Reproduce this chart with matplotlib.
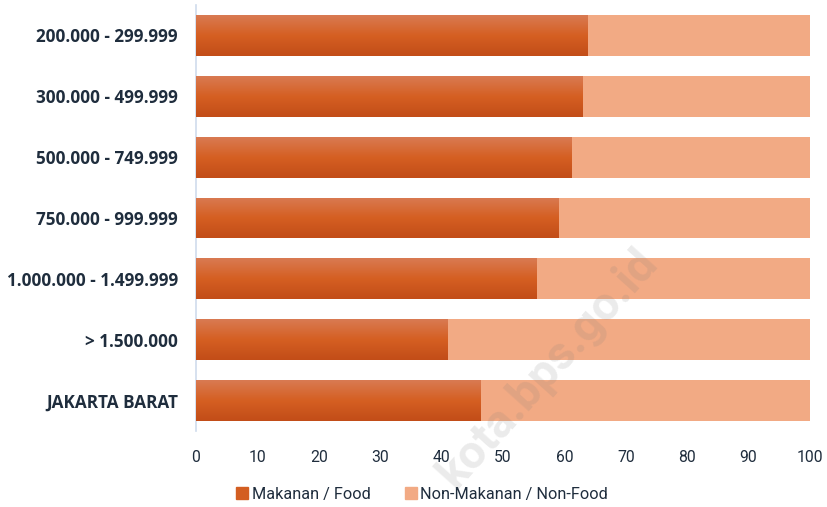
import numpy as np
import matplotlib
matplotlib.use("Agg")
import matplotlib.pyplot as plt
from matplotlib.colors import LinearSegmentedColormap
from matplotlib.patches import Patch

# data
categories = ["200.000 - 299.999", "300.000 - 499.999", "500.000 - 749.999",
              "750.000 - 999.999", "1.000.000 - 1.499.999", "> 1.500.000",
              "JAKARTA BARAT"]
food = [63.8, 63.0, 61.2, 59.0, 55.5, 41.0, 46.4]
nonfood = [100 - v for v in food]
xticks = list(range(0, 101, 10))

text_col = "#1f2d3d"
food_col = "#d35e22"
nonfood_col = "#f2aa84"

fig = plt.figure(figsize=(8.27, 5.07), dpi=100)
ax = fig.add_axes([196/827, 1-431/507, (810-196)/827, 426/507])

y = np.arange(len(categories))
h = 0.67
bars = ax.barh(y, food, height=h, color=food_col, zorder=2)
ax.barh(y, nonfood, left=food, height=h, color=nonfood_col, zorder=2)

# vertical gradient on the food bars
grad_cmap = LinearSegmentedColormap.from_list("g", ["#d97a52", "#d55f22", "#c24d18"])
grad = np.linspace(0, 1, 100).reshape(-1, 1)
for b in bars:
    x0, y0 = b.get_x(), b.get_y()
    im = ax.imshow(grad, cmap=grad_cmap, aspect="auto",
                   extent=[x0, x0 + b.get_width(), y0 + b.get_height(), y0],
                   zorder=3, interpolation="bilinear")
    im.set_clip_path(b)

ax.set_xlim(0, 100)
ax.set_ylim(len(categories) - 0.5, -0.5)
ax.set_xticks(xticks)
ax.set_yticks(y)
ax.set_yticklabels(categories, fontfamily="Open Sans", fontweight="bold",
                   fontsize=12.3, color=text_col)
for t in ax.get_xticklabels():
    t.set_fontfamily("Roboto")
    t.set_fontsize(11.3)
    t.set_color(text_col)
ax.tick_params(axis="both", length=0)
ax.tick_params(axis="x", pad=14)
ax.tick_params(axis="y", pad=13)
for s in ["top", "right", "bottom"]:
    ax.spines[s].set_visible(False)
ax.spines["left"].set_color("#cfdcec")
ax.spines["left"].set_linewidth(1.2)

# legend
handles = [Patch(color=food_col, label="Makanan / Food"),
           Patch(color=nonfood_col, label="Non-Makanan / Non-Food")]
fig.legend(handles=handles, loc="center", bbox_to_anchor=(422/827, 1-494/507),
           ncol=2, frameon=False, handlelength=0.75, handleheight=0.75,
           handletextpad=0.2, columnspacing=2.1,
           prop={"family": "Roboto", "size": 11.7}, labelcolor=text_col)

# faint watermark
fig.text(548/827, 1-368/507, "kota.bps.go.id", rotation=48,
         fontsize=34, fontweight="bold", fontfamily="Roboto",
         color="#7a7a7a", alpha=0.15, ha="center", va="center", zorder=10)

fig.savefig("out.png", dpi=100)
